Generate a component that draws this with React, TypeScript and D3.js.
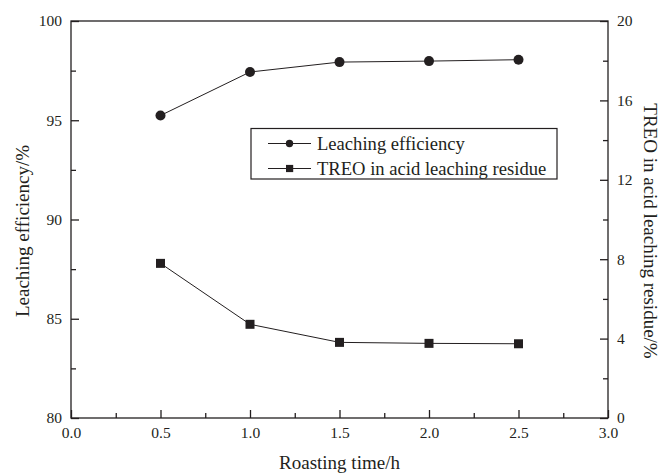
import React, { useRef, useEffect } from 'react';
import * as d3 from 'd3';

// values
const roastingTime = [0.5, 1.0, 1.5, 2.0, 2.5];
const leachingEfficiency = [95.24, 97.43, 97.93, 97.98, 98.05];
const treoResidue = [7.79, 4.72, 3.81, 3.76, 3.74];

const xMajor = [0, 0.5, 1.0, 1.5, 2.0, 2.5, 3.0];
const xMinor = [0.25, 0.75, 1.25, 1.75, 2.25, 2.75];
const leftMajor = [80, 85, 90, 95, 100];
const leftMinor = [82.5, 87.5, 92.5, 97.5];
const rightMajor = [0, 4, 8, 12, 16, 20];
const rightMinor = [2, 6, 10, 14, 18];

const legendLabels = ['Leaching efficiency', 'TREO in acid leaching residue'];

const W = 662;
const H = 474;
const margin = { left: 71, right: 54, top: 21, bottom: 56 };
const ink = '#231f20';
const font = '"Liberation Serif", "Times New Roman", serif';

export default function App() {
  const svgRef = useRef<SVGSVGElement>(null);

  useEffect(() => {
    const svg = d3.select(svgRef.current);
    svg.selectAll('*').remove();

    const x = d3.scaleLinear().domain([0, 3]).range([margin.left, W - margin.right]);
    const yL = d3.scaleLinear().domain([80, 100]).range([H - margin.bottom, margin.top]);
    const yR = d3.scaleLinear().domain([0, 20]).range([H - margin.bottom, margin.top]);

    const bottom = H - margin.bottom;
    const right = W - margin.right;

    // frame
    svg.append('rect')
      .attr('x', margin.left).attr('y', margin.top)
      .attr('width', right - margin.left).attr('height', bottom - margin.top)
      .attr('fill', 'none').attr('stroke', ink).attr('stroke-width', 1.3);

    const styleAxis = (g: any) => {
      g.select('.domain').remove();
      g.selectAll('line').attr('stroke', ink).attr('stroke-width', 1.3);
      g.selectAll('text').attr('fill', ink).style('font-family', font).style('font-size', '15.5px');
    };

    // x axis
    svg.append('g').attr('transform', `translate(0,${bottom})`)
      .call(d3.axisBottom(x).tickValues(xMajor).tickFormat(d3.format('.1f')).tickSizeInner(-8).tickSizeOuter(0).tickPadding(9))
      .call(styleAxis);
    svg.append('g').attr('transform', `translate(0,${bottom})`)
      .call(d3.axisBottom(x).tickValues(xMinor).tickFormat(() => '').tickSizeInner(-5).tickSizeOuter(0))
      .call(styleAxis);

    // left axis
    svg.append('g').attr('transform', `translate(${margin.left},0)`)
      .call(d3.axisLeft(yL).tickValues(leftMajor).tickSizeInner(-8).tickSizeOuter(0).tickPadding(9))
      .call(styleAxis);
    svg.append('g').attr('transform', `translate(${margin.left},0)`)
      .call(d3.axisLeft(yL).tickValues(leftMinor).tickFormat(() => '').tickSizeInner(-5).tickSizeOuter(0))
      .call(styleAxis);

    // right axis
    svg.append('g').attr('transform', `translate(${right},0)`)
      .call(d3.axisRight(yR).tickValues(rightMajor).tickSizeInner(-8).tickSizeOuter(0).tickPadding(9))
      .call(styleAxis);
    svg.append('g').attr('transform', `translate(${right},0)`)
      .call(d3.axisRight(yR).tickValues(rightMinor).tickFormat(() => '').tickSizeInner(-5).tickSizeOuter(0))
      .call(styleAxis);

    // axis titles
    svg.append('text')
      .attr('x', (margin.left + right) / 2).attr('y', 469)
      .attr('text-anchor', 'middle').attr('fill', ink)
      .style('font-family', font).style('font-size', '19px')
      .text('Roasting time/h');
    svg.append('text')
      .attr('transform', 'translate(29,231) rotate(-90)')
      .attr('text-anchor', 'middle').attr('fill', ink)
      .style('font-family', font).style('font-size', '19px')
      .text('Leaching efficiency/%');
    svg.append('text')
      .attr('transform', 'translate(644,231) rotate(90)')
      .attr('text-anchor', 'middle').attr('fill', ink)
      .style('font-family', font).style('font-size', '19px')
      .text('TREO in acid leaching residue/%');

    // series
    const effLine = d3.line<number>().x((_, i) => x(roastingTime[i])).y(d => yL(d));
    const resLine = d3.line<number>().x((_, i) => x(roastingTime[i])).y(d => yR(d));

    svg.append('path').datum(leachingEfficiency)
      .attr('d', effLine).attr('fill', 'none').attr('stroke', ink).attr('stroke-width', 1);
    svg.append('path').datum(treoResidue)
      .attr('d', resLine).attr('fill', 'none').attr('stroke', ink).attr('stroke-width', 1);

    svg.append('g').selectAll('circle').data(leachingEfficiency).join('circle')
      .attr('cx', (_, i) => x(roastingTime[i])).attr('cy', d => yL(d))
      .attr('r', 5).attr('fill', ink);

    const sq = 9;
    svg.append('g').selectAll('rect').data(treoResidue).join('rect')
      .attr('x', (_, i) => x(roastingTime[i]) - sq / 2).attr('y', d => yR(d) - sq / 2)
      .attr('width', sq).attr('height', sq).attr('fill', ink);

    // legend
    const lg = svg.append('g').attr('transform', 'translate(251,128.5)');
    lg.append('rect').attr('width', 306).attr('height', 50.5)
      .attr('fill', 'white').attr('stroke', ink).attr('stroke-width', 1.2);
    legendLabels.forEach((label, i) => {
      const cy = 15 + i * 25;
      const row = lg.append('g').attr('transform', `translate(0,${cy})`);
      row.append('line').attr('x1', 17).attr('x2', 60).attr('stroke', ink).attr('stroke-width', 1);
      if (i === 0) {
        row.append('circle').attr('cx', 38.5).attr('r', 3.7).attr('fill', ink);
      } else {
        row.append('rect').attr('x', 35).attr('y', -3.6).attr('width', 7.2).attr('height', 7.2).attr('fill', ink);
      }
      row.append('text').attr('x', 66).attr('dy', '0.33em').attr('fill', ink)
        .style('font-family', font).style('font-size', '18.6px').text(label);
    });
  }, []);

  return (
    <svg ref={svgRef} width={W} height={H}
      style={{ position: 'absolute', left: 0, top: 0, background: 'white' }} />
  );
}
